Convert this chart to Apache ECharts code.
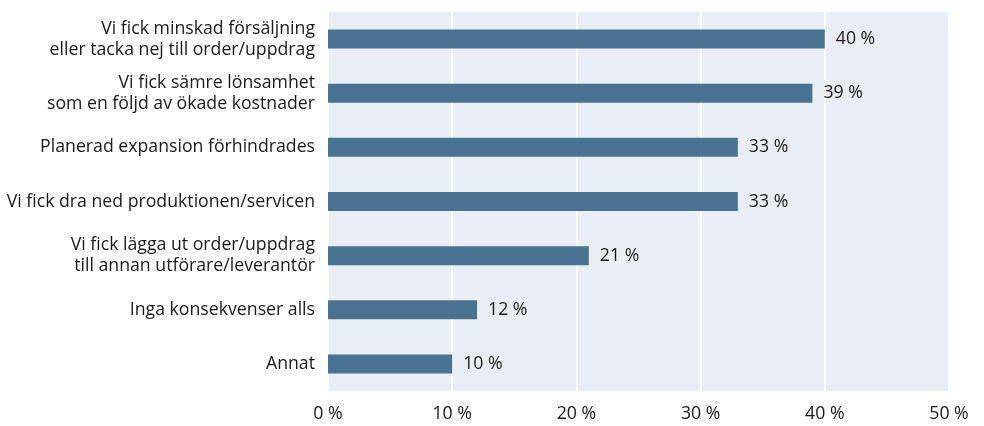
<!DOCTYPE html>
<html>
<head>
<meta charset="utf-8">
<script src="https://cdn.jsdelivr.net/npm/echarts@6/dist/echarts.min.js"></script>
<style>
  html, body { margin: 0; padding: 0; background: #ffffff; }
  #chart { width: 984px; height: 426px; }
</style>
</head>
<body>
<div id="chart"></div>
<script>
// Consequences and their shares (percent)
const categories = [
  'Vi fick minskad försäljning\neller tacka nej till order/uppdrag',
  'Vi fick sämre lönsamhet\nsom en följd av ökade kostnader',
  'Planerad expansion förhindrades',
  'Vi fick dra ned produktionen/servicen',
  'Vi fick lägga ut order/uppdrag\ntill annan utförare/leverantör',
  'Inga konsekvenser alls',
  'Annat'
];
const shares = [40, 39, 33, 33, 21, 12, 10];
const axisTicks = [0, 10, 20, 30, 40, 50];

const FONT = '"Open Sans", "Noto Sans", sans-serif';
const SIZE = 17.7;
const chart = echarts.init(document.getElementById('chart'));
chart.setOption({
  animation: false,
  grid: {
    left: 328, right: 35, top: 12, bottom: 35,
    show: true, backgroundColor: '#e9edf5', borderWidth: 0
  },
  xAxis: {
    type: 'value',
    min: axisTicks[0],
    max: axisTicks[axisTicks.length - 1],
    interval: axisTicks[1] - axisTicks[0],
    axisLine: { show: false },
    axisTick: { show: false },
    splitLine: { lineStyle: { color: '#ffffff', width: 2 } },
    axisLabel: {
      formatter: '{value} %',
      color: '#1a1a1a', fontSize: SIZE, fontFamily: FONT, margin: 14
    }
  },
  yAxis: {
    type: 'category',
    data: categories,
    inverse: true,
    axisLine: { show: false },
    axisTick: { show: false },
    axisLabel: {
      color: '#1a1a1a', fontSize: SIZE, fontFamily: FONT,
      lineHeight: 21, margin: 13, align: 'right'
    }
  },
  series: [{
    type: 'bar',
    data: shares,
    barWidth: 19,
    itemStyle: { color: '#4a7391' },
    label: {
      show: true, position: 'right', distance: 11,
      formatter: '{c} %',
      color: '#1a1a1a', fontSize: SIZE, fontFamily: FONT
    }
  }]
});
</script>
</body>
</html>
